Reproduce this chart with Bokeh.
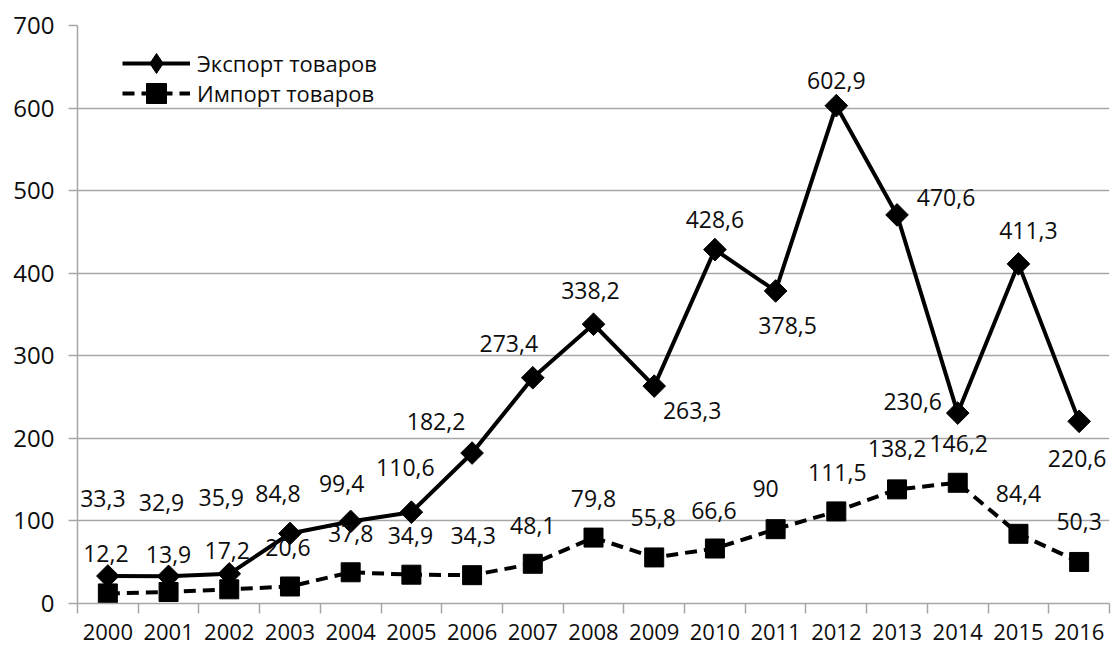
from bokeh.plotting import figure
from bokeh.models import ColumnDataSource, LabelSet, FixedTicker, Range1d, Legend, LegendItem
from bokeh.core.properties import value
from bokeh.embed import file_html
from bokeh.resources import INLINE

years = ["2000", "2001", "2002", "2003", "2004", "2005", "2006", "2007", "2008",
         "2009", "2010", "2011", "2012", "2013", "2014", "2015", "2016"]
export_vals = [33.3, 32.9, 35.9, 84.8, 99.4, 110.6, 182.2, 273.4, 338.2,
               263.3, 428.6, 378.5, 602.9, 470.6, 230.6, 411.3, 220.6]
import_vals = [12.2, 13.9, 17.2, 20.6, 37.8, 34.9, 34.3, 48.1, 79.8,
               55.8, 66.6, 90, 111.5, 138.2, 146.2, 84.4, 50.3]
y_ticks = [0, 100, 200, 300, 400, 500, 600, 700]
series_names = ["Экспорт товаров", "Импорт товаров"]

# label placement (screen pixel offsets, up positive) - styling only
export_dx = [-5, -7, -8, -12, -9, -6, -36, -24, -3, 38, 0, 12, 0, 49, -45, 10, -2]
export_dy = [78, 74, 76, 40, 38, 45, 32, 34, 34, -24, 30, -35, 25, 17, 12, 33, -37]
import_dx = [-2, 0, -2, -2, 0, -1, 1, 0, 0, -1, -1, -10, 1, 0, 1, 0, 0]
import_dy = [40, 38, 39, 39, 39, 39, 40, 38, 39, 40, 38, 41, 39, 41, 39, 40, 40]

FONT = value("Open Sans")
TXT = "#0d0d0d"
GRID = "#a6a6a6"


def fmt(v):
    return f"{v:g}".replace(".", ",")


xs = [i + 0.5 for i in range(len(years))]

src_e = ColumnDataSource(dict(x=xs, y=export_vals, t=[fmt(v) for v in export_vals],
                              dx=export_dx, dy=export_dy))
src_i = ColumnDataSource(dict(x=xs, y=import_vals, t=[fmt(v) for v in import_vals],
                              dx=import_dx, dy=import_dy))
src_nan = ColumnDataSource(dict(x=[float("nan")], y=[float("nan")]))

p = figure(frame_width=1032, frame_height=578, output_backend="svg", toolbar_location=None,
           x_range=Range1d(0, len(years)), y_range=Range1d(0, 700),
           min_border_left=77, min_border_top=25, min_border_right=4, min_border_bottom=46)
p.outline_line_color = None
p.background_fill_color = "white"
p.border_fill_color = "white"

# axes
p.xaxis.ticker = FixedTicker(ticks=xs, minor_ticks=list(range(len(years) + 1)))
p.xaxis.major_label_overrides = {x: y for x, y in zip(xs, years)}
p.xaxis.major_tick_out = 0
p.xaxis.major_tick_in = 0
p.xaxis.minor_tick_out = 10
p.xaxis.minor_tick_in = 0
p.xaxis.minor_tick_line_color = GRID
p.xaxis.minor_tick_line_width = 1.5
p.xaxis.axis_line_color = GRID
p.xaxis.axis_line_width = 1.5
p.xaxis.major_label_standoff = 10
p.xaxis.major_label_text_font = "Open Sans"
p.xaxis.major_label_text_font_size = "22px"
p.xaxis.major_label_text_color = TXT

p.yaxis.ticker = FixedTicker(ticks=y_ticks)
p.yaxis.major_tick_out = 9
p.yaxis.major_tick_in = 0
p.yaxis.minor_tick_line_color = None
p.yaxis.major_tick_line_color = GRID
p.yaxis.major_tick_line_width = 1.5
p.yaxis.axis_line_color = GRID
p.yaxis.axis_line_width = 1.5
p.yaxis.major_label_standoff = 14
p.yaxis.major_label_text_font = "Open Sans"
p.yaxis.major_label_text_font_size = "24px"
p.yaxis.major_label_text_color = TXT

p.xgrid.grid_line_color = None
p.ygrid.grid_line_color = GRID
p.ygrid.grid_line_width = 1.5
p.ygrid.ticker = FixedTicker(ticks=y_ticks)

# series
le = p.line("x", "y", source=src_e, line_color="black", line_width=4)
me = p.scatter("x", "y", source=src_e, marker="square", size=16, angle=0.785398,
               fill_color="black", line_color="black")
li = p.line("x", "y", source=src_i, line_color="black", line_width=4, line_dash="12 7")
mi = p.scatter("x", "y", source=src_i, marker="square", size=19,
               fill_color="black", line_color="black")
# legend-only diamond symbol (not drawn in the plot area)
md = p.scatter("x", "y", source=src_nan, marker="diamond", size=26,
               fill_color="black", line_color="black")

for src in (src_e, src_i):
    labels = LabelSet(x="x", y="y", text="t", source=src, x_offset="dx", y_offset="dy",
                      text_align="center", text_baseline="middle",
                      text_font=FONT, text_font_size="23px", text_color=TXT)
    p.add_layout(labels)

legend_entries = [(series_names[0], [le, md], (45, 515)),
                  (series_names[1], [li, mi], (45, 485))]
for name, rends, loc in legend_entries:
    lg = Legend(items=[LegendItem(label=name, renderers=rends)],
                location=loc, margin=0, padding=0, spacing=0,
                glyph_width=68, glyph_height=50, label_height=50, label_standoff=7,
                label_text_font="Open Sans", label_text_font_size="22px",
                label_text_color=TXT, border_line_color=None, background_fill_alpha=0)
    p.add_layout(lg)

open("out.html", "w").write(file_html(p, INLINE))
